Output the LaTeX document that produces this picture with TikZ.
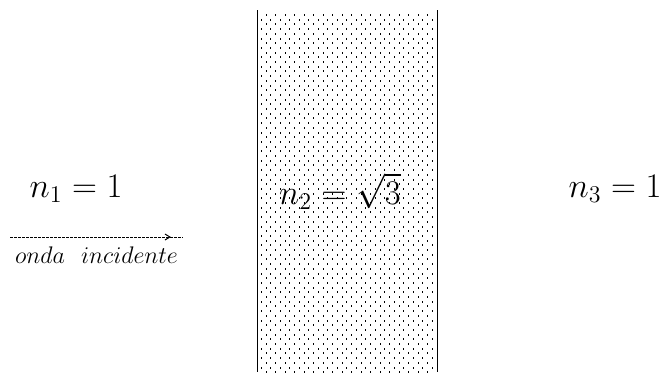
\documentclass[tikz,border=0pt]{standalone}
\usetikzlibrary{decorations.markings,arrows.meta}
\begin{document}
\begin{tikzpicture}[x=0.5pt,y=-0.5pt,
  idx/.style={inner sep=0pt,anchor=base,font=\fontsize{16.5}{19}\selectfont},
  caption/.style={inner sep=0pt,anchor=base,font=\fontsize{12.5}{15}\selectfont},
  wall/.style={line width=0.5pt},
  dotmark/.style={fill=black},
  wave/.style={line width=0.5pt,dash pattern=on 1.4pt off 0.6pt,
    postaction={decorate,decoration={markings,
      mark=at position 0.93 with {\arrow[solid]{Straight Barb[length=2.5pt,width=3pt]}}}}}
]
\useasboundingbox (0,0) rectangle (662,372);
% dotted slab
\foreach \j in {0,...,76}{
  \pgfmathsetmacro{\yy}{15+4.7*\j}
  \ifodd\j
    \foreach \k in {0,...,18}{\fill[dotmark] ({261+9.5*\k-0.5},\yy-1) rectangle ++(1,2);}
  \else
    \foreach \k in {0,...,17}{\fill[dotmark] ({266+9.5*\k-0.5},\yy-1) rectangle ++(1,2);}
  \fi
}
\coordinate (lt) at (257,10); \coordinate (lb) at (257,372);
\coordinate (rt) at (437,10); \coordinate (rb) at (437,372);
\draw[wall] (lt) -- (lb);
\draw[wall] (rt) -- (rb);
% labels
\node[idx] (n1) at (76,197) {$n_1 = 1$};
\node[idx] (n2) at (340,204) {$n_2 = \sqrt{3}$};
\node[idx] (n3) at (615,197) {$n_3 = 1$};
% incident wave
\coordinate (w1) at (10,237); \coordinate (w2) at (183,237);
\draw[wave] (w1) -- (w2);
\node[caption] (lab) at (96.5,263) {$onda\ \ incidente$};
\end{tikzpicture}
\end{document}
